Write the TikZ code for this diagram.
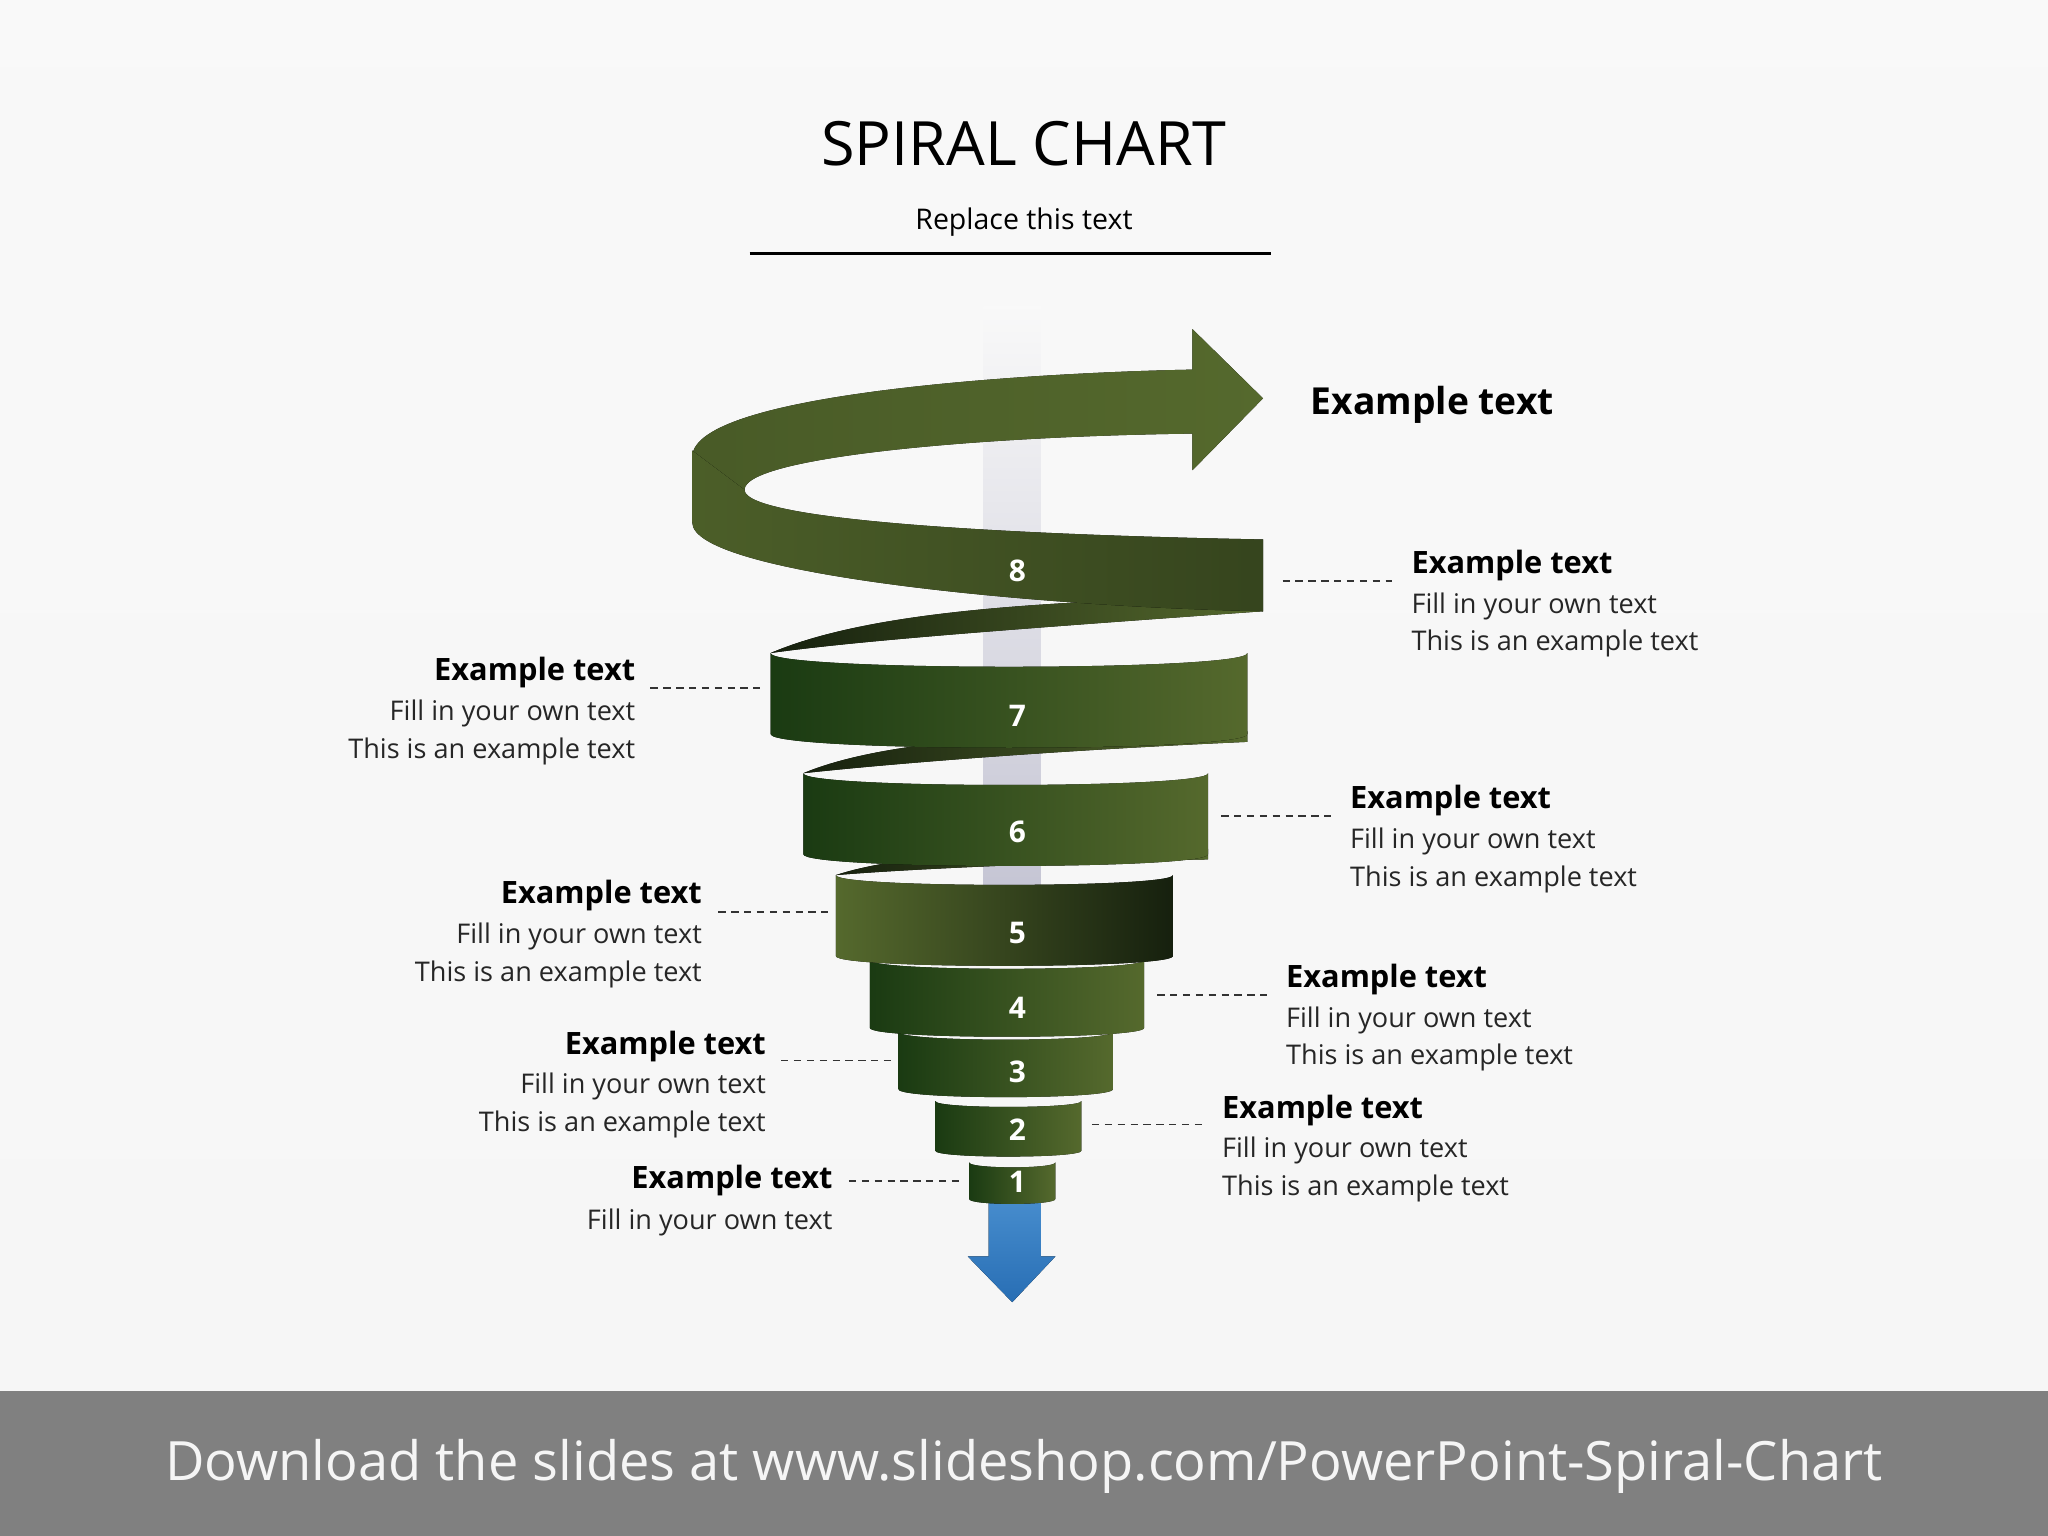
\documentclass[tikz,border=0pt]{standalone}
\usepackage{fontspec}
\setmainfont{Open Sans}
\definecolor{gdark}{RGB}{22,32,14}
\definecolor{gmid}{RGB}{45,165,30}
\definecolor{gbr}{RGB}{40,150,28}
\definecolor{golive}{RGB}{85,105,45}
\definecolor{gdeep}{RGB}{28,70,20}
\definecolor{bl1}{RGB}{70,140,205}
\definecolor{bl2}{RGB}{40,110,180}
\begin{document}
\begin{tikzpicture}[x=0.01cm,y=-0.01cm,
 band/.style={left color=gdeep!70!gdark, middle color=gmid, right color=golive, draw=none},
 bandr/.style={left color=golive, middle color=gmid, right color=gdark, draw=none},
 back/.style={left color=gdark, right color=golive, draw=none},
 num/.style={text=white, font=\bfseries\fontsize{6.5}{8}\selectfont, inner sep=0pt},
 hd/.style={font=\bfseries\fontsize{6.7}{9}\selectfont, inner sep=0pt},
 bd/.style={font=\fontsize{5.9}{8.5}\selectfont, inner sep=0pt, text=black!85},
 dl/.style={dash pattern=on 1.6pt off 1.2pt, thin, black!80}]
\useasboundingbox (0,0) rectangle (1568,1176);
\fill[top color=white!95!gray, bottom color=white!93!gray] (0,0) rectangle (1568,1065);
\fill[gray!95!black!95] (0,1065) rectangle (1568,1176);
\node[font=\fontsize{11.8}{14}\selectfont, text=white!92!gray] (foot) at (784,1123) {Download the slides at www.slideshop.com/PowerPoint-Spiral-Chart};
\node[font=\fontsize{13.3}{16}\selectfont] (title) at (784,110) {SPIRAL CHART};
\node[font=\fontsize{6.2}{8}\selectfont] (sub) at (784,170) {Replace this text};
\draw[thick] (574,194) -- (973,194);
% vertical bar
\fill[top color=white!95!gray, bottom color=blue!15!gray!40] (753,235) rectangle (797,690);
% blue arrow
\fill[top color=bl1, bottom color=bl2] (757,920) -- (797,920) -- (797,962) -- (808,962) -- (775,997) -- (741,962) -- (757,962) -- cycle;
% back pieces
\fill[back] (590,500) .. controls (660,470) and (780,462) .. (900,458) -- (967,468) .. controls (800,480) and (660,490) .. (590,500);
\fill[back] (615,592) .. controls (680,565) and (800,560) .. (955,560) -- (955,568) .. controls (800,575) and (680,585) .. (615,592) -- cycle;
\fill[back] (640,670) .. controls (700,650) and (820,650) .. (925,650) -- (925,658) .. controls (820,660) and (700,665) .. (640,670) -- cycle;
\fill[back] (666,735) .. controls (720,725) and (820,725) .. (898,725) -- (898,732) .. controls (820,732) and (720,733) .. (666,735) -- cycle;
% bands (bottom to top)
\foreach \L/\R/\T/\h/\c/\s in {742/808/890/28/5/band, 716/828/843/38/6/band, 688/852/790/44/8/band, 666/876/735/52/9/band, 640/898/670/62/10/bandr, 615/925/592/62/12/band, 590/955/500/62/14/band}{
 \fill[\s] (\L,\T) .. controls (\L,\T+\c) and (\R,\T+\c) .. (\R,\T) -- (\R,\T+\h) .. controls (\R,\T+\h+\c) and (\L,\T+\h+\c) .. (\L,\T+\h) -- cycle;
}
% top ribbon
\fill[left color=golive!80!gdark, middle color=gmid, right color=golive] (530,350) .. controls (530,300) and (800,285) .. (913,283) -- (913,252) -- (967,305) -- (913,360) -- (913,332) .. controls (750,334) and (570,350) .. (570,375) -- cycle;
\fill[left color=golive!85!gdark, middle color=gbr, right color=golive!50!gdark] (530,345) -- (530,400) .. controls (530,440) and (800,465) .. (967,468) -- (967,413) .. controls (800,410) and (570,400) .. (570,375) -- cycle;
% numbers
\foreach \n/\y in {8/437,7/548,6/637,5/714,4/772,3/821,2/865,1/905}{\node[num] (n\n) at (779,\y) {\n};}
\node[font=\bfseries\fontsize{8.1}{10}\selectfont, anchor=west, inner sep=0pt] (top) at (1003,310) {Example text};
% right labels
\foreach \i/\xa/\xb/\yl/\tx/\ty in {a/982/1066/445/1080/433, b/935/1020/625/1033/613, c/886/970/762/984/750, d/836/920/861/935/850}{
 \coordinate (p\i) at (\xa,\yl); \coordinate (q\i) at (\xb,\yl);
 \draw[dl] (p\i) -- (q\i);
 \node[hd, anchor=west] (h\i) at (\tx,\ty) {Example text};
 \node[bd, anchor=west] (f\i) at (\tx,\ty+31) {Fill in your own text};
 \node[bd, anchor=west] (g\i) at (\tx,\ty+60) {This is an example text};
}
% left labels
\foreach \i/\xa/\xb/\yl/\tx/\ty in {e/498/582/527/487/515, f/550/634/698/538/686, g/598/682/812/587/801}{
 \coordinate (p\i) at (\xa,\yl); \coordinate (q\i) at (\xb,\yl);
 \draw[dl] (p\i) -- (q\i);
 \node[hd, anchor=east] (h\i) at (\tx,\ty) {Example text};
 \node[bd, anchor=east] (f\i) at (\tx,\ty+31) {Fill in your own text};
 \node[bd, anchor=east] (g\i) at (\tx,\ty+60) {This is an example text};
}
\coordinate (ph) at (650,904); \coordinate (qh) at (734,904);
\draw[dl] (ph) -- (qh);
\node[hd, anchor=east] (hh) at (638,904) {Example text};
\node[bd, anchor=east] (fh) at (638,936) {Fill in your own text};
\end{tikzpicture}
\end{document}
